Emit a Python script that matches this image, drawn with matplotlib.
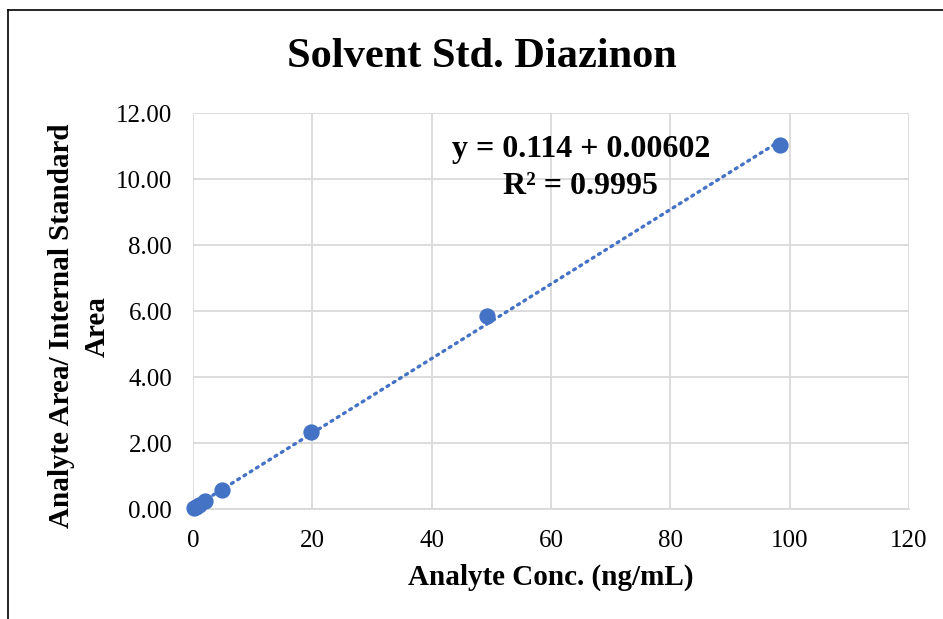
import numpy as np
import matplotlib.pyplot as plt
from matplotlib.lines import Line2D

# Dados da curva de calibração
conc = [0.2, 0.5, 1.0, 2.0, 4.9, 19.7, 49.2, 98.4]
ratio = [0.03, 0.06, 0.11, 0.24, 0.57, 2.33, 5.85, 11.02]
x_ticks = [0, 20, 40, 60, 80, 100, 120]
y_ticks = [0, 2, 4, 6, 8, 10, 12]
eq_text = "y = 0.114 + 0.00602\nR² = 0.9995"

plt.rcParams['font.family'] = ['Liberation Serif', 'DejaVu Serif']

fig = plt.figure(figsize=(9.43, 6.19), dpi=100)
ax = fig.add_axes([0.2047, 0.1777, 0.7593, 0.6397])

blue = '#4472C4'

# linha de tendência (ajuste linear)
coef = np.polyfit(conc, ratio, 1)
xs = np.array([min(conc), max(conc)])
ax.plot(xs, np.polyval(coef, xs), color=blue, linestyle=(0, (0.6, 1.6)),
        linewidth=2.4, dash_capstyle='round', zorder=2)
ax.scatter(conc, ratio, s=115, color=blue, zorder=3, clip_on=False)

ax.set_xlim(0, 120)
ax.set_ylim(0, 12)
ax.set_xticks(x_ticks)
ax.set_yticks(y_ticks)
ax.set_yticklabels([f"{v:.2f}" for v in y_ticks])
ax.tick_params(axis='both', length=0, labelsize=18)
ax.tick_params(axis='y', pad=15)
ax.tick_params(axis='x', pad=15)

ax.grid(True, color='#d9d9d9', linewidth=1.3)
ax.set_axisbelow(True)
for side in ['left', 'top', 'right']:
    ax.spines[side].set_visible(False)
ax.spines['bottom'].set_color('#d9d9d9')
ax.spines['bottom'].set_linewidth(1.3)

fig.text(0.511, 1 - 57 / 619, 'Solvent Std. Diazinon', fontsize=30.5,
         fontweight='bold', ha='center', va='center')
ax.set_xlabel('Analyte Conc. (ng/mL)', fontsize=21, fontweight='bold')
ax.xaxis.set_label_coords(0.5, -0.1717)
ax.xaxis.label.set_va('center')
ax.set_ylabel('Analyte Area/ Internal Standard\nArea', fontsize=21,
              fontweight='bold', linespacing=1.42)
ax.yaxis.set_label_coords(-0.1585, 0.462)
ax.yaxis.label.set_va('center')

ax.text(65, 10.33, eq_text, ha='center', va='center', fontsize=23,
        fontweight='bold', linespacing=1.35)

# borda do quadro (só esquerda e topo aparecem)
fig.add_artist(Line2D([8 / 943, 8 / 943], [0, 1 - 10 / 619], color='black', linewidth=1.2))
fig.add_artist(Line2D([8 / 943, 1], [1 - 10 / 619, 1 - 10 / 619], color='black', linewidth=1.2))

fig.savefig('out.png', dpi=100)
